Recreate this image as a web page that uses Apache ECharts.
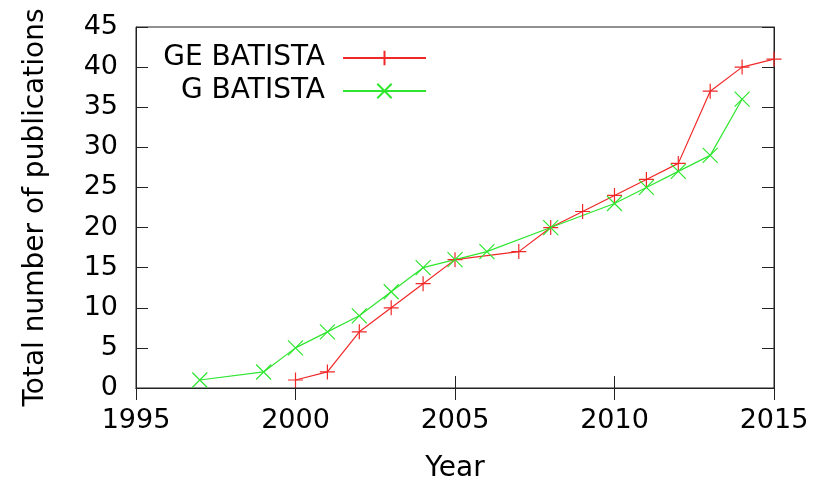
<!DOCTYPE html>
<html>
<head>
<meta charset="utf-8">
<script src="https://cdn.jsdelivr.net/npm/echarts@6/dist/echarts.min.js"></script>
<style>
html,body{margin:0;padding:0;background:#fff;}
#chart{width:819px;height:478px;}
</style>
</head>
<body>
<div id="chart"></div>
<script>
const geYears = [2000, 2001, 2002, 2003, 2004, 2005, 2007, 2008, 2009, 2010, 2011, 2012, 2013, 2014, 2015];
const geValues = [1, 2, 7, 10, 13, 16, 17, 20, 22, 24, 26, 28, 37, 40, 41];
const gYears = [1997, 1999, 2000, 2001, 2002, 2003, 2004, 2005, 2006, 2008, 2010, 2011, 2012, 2013, 2014];
const gValues = [1, 2, 5, 7, 9, 12, 15, 16, 17, 20, 23, 25, 27, 29, 36];
const seriesNames = ['GE BATISTA', 'G BATISTA'];
const xTitle = 'Year';
const yTitle = 'Total number of publications';

const FONT = 'DejaVu Sans';
const RED = '#f02828';
const GREEN = '#2ee62e';
const plusPath = 'path://M5,0L5,10M0,5L10,5';
const crossPath = 'path://M0,0L10,10M10,0L0,10';

const chart = echarts.init(document.getElementById('chart'));
const axisLineStyle = {color: '#222', width: 1};
const tickStyle = {show: true, inside: true, length: 12, lineStyle: {color: '#222', width: 1}};

chart.setOption({
  backgroundColor: '#fff',
  animation: false,
  grid: {left: 136, right: 45, top: 27, bottom: 90, show: true, borderColor: '#222', borderWidth: 1,
         outerBoundsMode: 'none', containLabel: false},
  xAxis: [{
    type: 'value', min: 1995, max: 2015, interval: 5,
    name: xTitle, nameLocation: 'middle', nameGap: 67,
    nameTextStyle: {fontFamily: FONT, fontSize: 28, color: '#000'},
    axisLine: {show: true, lineStyle: axisLineStyle},
    axisTick: tickStyle,
    splitLine: {show: false},
    axisLabel: {fontFamily: FONT, fontSize: 27, color: '#000', margin: 19, formatter: v => String(v)}
  }, {
    type: 'value', min: 1995, max: 2015, interval: 5, position: 'top',
    axisLine: {show: true, lineStyle: axisLineStyle},
    axisTick: tickStyle, axisLabel: {show: false}, splitLine: {show: false}
  }],
  yAxis: [{
    type: 'value', min: 0, max: 45, interval: 5,
    name: yTitle, nameLocation: 'middle', nameGap: 86, nameRotate: 90,
    nameTextStyle: {fontFamily: FONT, fontSize: 28, color: '#000'},
    axisLine: {show: true, lineStyle: axisLineStyle},
    axisTick: tickStyle,
    splitLine: {show: false},
    axisLabel: {fontFamily: FONT, fontSize: 27, color: '#000', margin: 18}
  }, {
    type: 'value', min: 0, max: 45, interval: 5, position: 'right',
    axisLine: {show: true, lineStyle: axisLineStyle},
    axisTick: tickStyle, axisLabel: {show: false}, splitLine: {show: false}
  }],
  legend: [{
    data: [seriesNames[0]], orient: 'vertical', right: 392, top: 44, align: 'right', padding: 0,
    itemWidth: 83, itemHeight: 18,
    textStyle: {fontFamily: FONT, fontSize: 28, color: '#000', padding: [0, 13, 0, 0]}
  }, {
    data: [seriesNames[1]], orient: 'vertical', right: 392, top: 77, align: 'right', padding: 0,
    itemWidth: 83, itemHeight: 18,
    textStyle: {fontFamily: FONT, fontSize: 28, color: '#000', padding: [0, 13, 0, 0]}
  }],
  series: [{
    name: seriesNames[0], type: 'line', clip: false,
    data: geYears.map((y, i) => [y, geValues[i]]),
    symbol: plusPath, symbolSize: 15, showAllSymbol: true,
    lineStyle: {color: RED, width: 1.2},
    itemStyle: {color: RED, borderColor: RED, borderWidth: 1.2}
  }, {
    name: seriesNames[1], type: 'line', clip: false,
    data: gYears.map((y, i) => [y, gValues[i]]),
    symbol: crossPath, symbolSize: 15, showAllSymbol: true,
    lineStyle: {color: GREEN, width: 1.2},
    itemStyle: {color: GREEN, borderColor: GREEN, borderWidth: 1.2}
  }]
});
</script>
</body>
</html>
